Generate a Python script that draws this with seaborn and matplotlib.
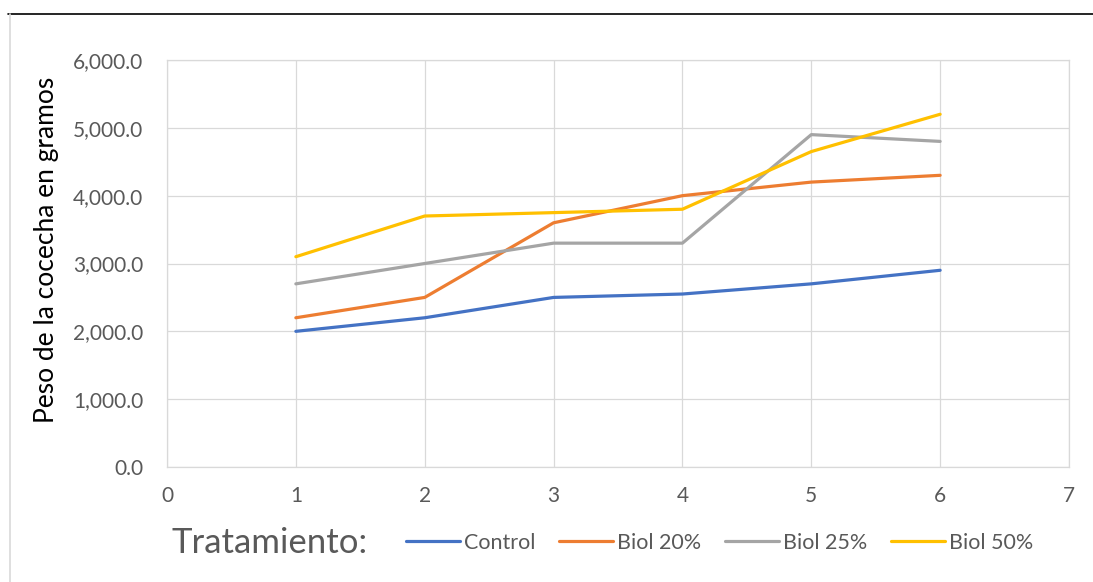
import matplotlib
matplotlib.use("Agg")
import matplotlib.pyplot as plt
from matplotlib.lines import Line2D
import seaborn as sns
import pandas as pd

# Harvest weight per treatment at each sampling point
tratamientos = [1, 2, 3, 4, 5, 6]
control = [2000, 2200, 2500, 2550, 2700, 2900]
biol_20 = [2200, 2500, 3600, 4000, 4200, 4300]
biol_25 = [2700, 3000, 3300, 3300, 4900, 4800]
biol_50 = [3100, 3700, 3750, 3800, 4650, 5200]
series_names = ["Control", "Biol 20%", "Biol 25%", "Biol 50%"]
colors = ["#4472C4", "#ED7D31", "#A5A5A5", "#FFC000"]
y_ticks = [0, 1000, 2000, 3000, 4000, 5000, 6000]
x_ticks = [0, 1, 2, 3, 4, 5, 6, 7]

rows = []
for name, vals in zip(series_names, [control, biol_20, biol_25, biol_50]):
    for t, v in zip(tratamientos, vals):
        rows.append({"Tratamiento": t, "Peso": v, "Serie": name})
df = pd.DataFrame(rows)

sns.set_theme(style="white")
plt.rcParams["font.family"] = ["Lato", "DejaVu Sans"]

fig = plt.figure(figsize=(10.93, 5.82), dpi=100)
ax = fig.add_axes([167 / 1093, 1 - 467 / 582, (1069 - 167) / 1093, (467 - 60) / 582])

sns.lineplot(data=df, x="Tratamiento", y="Peso", hue="Serie",
             hue_order=series_names, palette=colors, linewidth=2.3,
             ax=ax, legend=False)

ax.set_xlim(0, 7)
ax.set_ylim(0, 6000)
ax.set_xticks(x_ticks)
ax.set_yticks(y_ticks)
ax.set_yticklabels([f"{v:,.1f}" for v in y_ticks])
ax.grid(True, color="#D9D9D9", linewidth=0.9)
ax.set_axisbelow(True)
for sp in ax.spines.values():
    sp.set_color("#D9D9D9")
    sp.set_linewidth(0.9)
ax.tick_params(axis="both", length=0, labelsize=15, labelcolor="#595959")
ax.tick_params(axis="y", pad=17)
ax.tick_params(axis="x", pad=14)
ax.set_xlabel("")
ax.set_ylabel("")

fig.text(47 / 1093, 1 - 250 / 582, "Peso de la cocecha en gramos",
         rotation=90, ha="center", va="center", fontsize=19, color="black")

# Legend row with its caption
fig.text(172 / 1093, 1 - 543 / 582, "Tratamiento:", ha="left", va="center",
         fontsize=25, color="#595959")
handles = [Line2D([0], [0], color=c, linewidth=2.3) for c in colors]
fig.legend(handles, series_names, loc="center left",
           bbox_to_anchor=(406 / 1093, 1 - 543 / 582), ncol=4, frameon=False,
           fontsize=15.5, labelcolor="#595959", handlelength=2.5,
           handletextpad=0.2, columnspacing=1.1, borderaxespad=0,
           borderpad=0)

# Outer frame lines
fig.add_artist(Line2D([8 / 1093, 1], [1 - 14 / 582, 1 - 14 / 582],
                      transform=fig.transFigure, color="black", linewidth=1.2))
fig.add_artist(Line2D([10 / 1093, 10 / 1093], [0, 1 - 14 / 582],
                      transform=fig.transFigure, color="#D9D9D9", linewidth=1.2))

fig.savefig("out.png", dpi=100)
